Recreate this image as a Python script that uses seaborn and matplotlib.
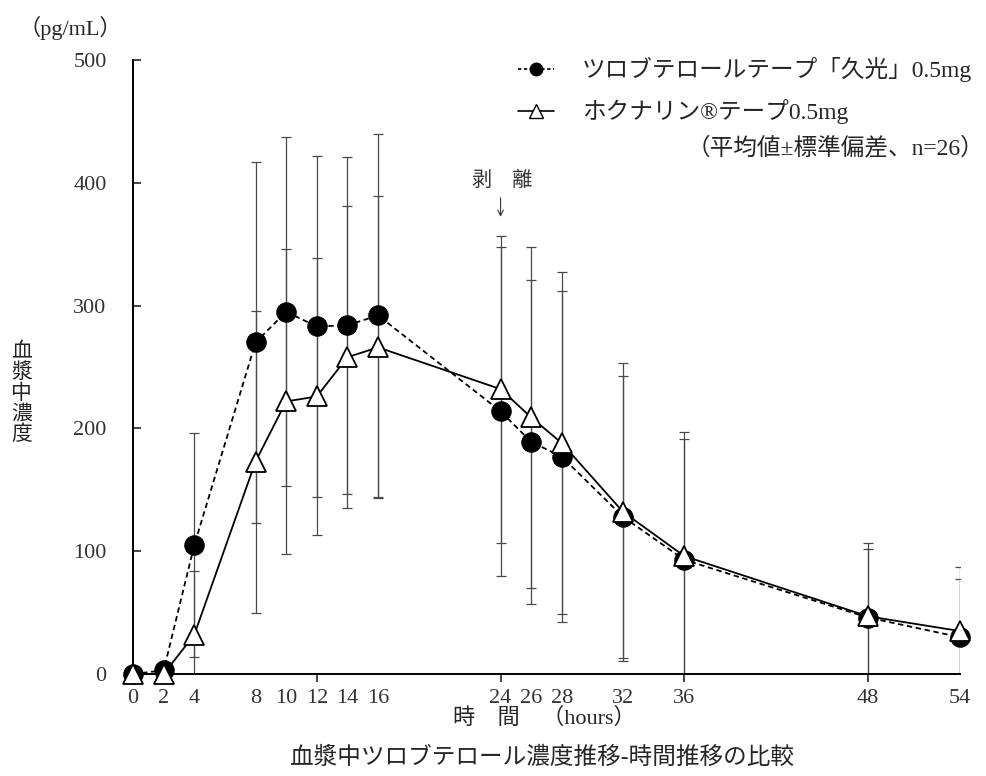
import numpy as np
import pandas as pd
import matplotlib
matplotlib.use("Agg")
import matplotlib.pyplot as plt
from matplotlib.lines import Line2D
from matplotlib.ticker import FixedLocator
import seaborn as sns

# sampling times (hours)
times = [0, 2, 4, 8, 10, 12, 14, 16, 24, 26, 28, 32, 36, 48, 54]

# ツロブテロールテープ「久光」0.5mg (mean, SD)
hisamitsu_mean = [0, 3, 105, 270, 295, 283, 284, 292, 214, 189, 177, 128, 93, 46, 30]
hisamitsu_sd = [0, 0, 91, 147, 142, 139, 137, 148, 134, 132, 135, 115, 98, 56, 47]

# ホクナリンテープ0.5mg (mean, SD)
hokunalin_mean = [0, 0, 32, 173, 222, 226, 258, 266, 232, 209, 188, 132, 96, 47, 35]
hokunalin_sd = [0, 0, 52, 123, 124, 113, 123, 123, 125, 139, 139, 121, 101, 60, 52]

y_ticks = [0, 100, 200, 300, 400, 500]
x_minor_ticks = [12, 24, 36, 48]

legend_labels = ["ツロブテロールテープ「久光」0.5mg", "ホクナリン®テープ0.5mg"]

sns.set_style("ticks")
plt.rcParams["font.family"] = ["Liberation Serif", "Noto Sans CJK JP", "DejaVu Sans"]

df = pd.DataFrame({
    "time": times,
    "hisamitsu": hisamitsu_mean,
    "hisamitsu_sd": hisamitsu_sd,
    "hokunalin": hokunalin_mean,
    "hokunalin_sd": hokunalin_sd,
})

fig = plt.figure(figsize=(9.87, 7.76), dpi=100)
ax = fig.add_axes([0.1348, 0.1314, 0.9726 - 0.1348, 0.9227 - 0.1314])

# error bars (only where SD > 0)
for col in ["hisamitsu", "hokunalin"]:
    d = df[df[col + "_sd"] > 0]
    ax.errorbar(d["time"], d[col], yerr=d[col + "_sd"], fmt="none",
                ecolor="#4a4a4a", elinewidth=0.9, capsize=3.6, capthick=0.9,
                zorder=1)

sns.lineplot(data=df, x="time", y="hisamitsu", ax=ax, color="black",
             linestyle=(0, (3, 2)), linewidth=1.3, marker="o", markersize=14,
             markerfacecolor="black", markeredgecolor="black",
             clip_on=False, zorder=3, legend=False)
sns.lineplot(data=df, x="time", y="hokunalin", ax=ax, color="black",
             linewidth=1.3, marker="^", markersize=15,
             markerfacecolor="white", markeredgecolor="black",
             markeredgewidth=1.3, clip_on=False, zorder=4, legend=False)

ax.set_xlim(0, 54)
ax.set_ylim(0, 500)
sns.despine(ax=ax)
for s in ["left", "bottom"]:
    ax.spines[s].set_linewidth(1.4)
    ax.spines[s].set_color("black")

ax.set_yticks(y_ticks)
ax.set_xticks(times)
ax.set_xticklabels([str(t) for t in times])
ax.xaxis.remove_overlapping_locs = False
ax.xaxis.set_minor_locator(FixedLocator(x_minor_ticks))
ax.tick_params(axis="y", direction="in", length=6, width=1.2, pad=19,
               labelsize=16, labelcolor="#333333")
ax.tick_params(axis="x", which="major", length=0, pad=11,
               labelsize=16, labelcolor="#333333")
ax.tick_params(axis="x", which="minor", direction="out", length=6, width=1.2)
ax.set_xlabel("")
ax.set_ylabel("")

# peel-off annotation
ax.annotate("", xy=(24, 370), xytext=(24, 390),
            arrowprops=dict(arrowstyle="->", lw=0.8, color="#333333"))
ax.text(24.1, 401, "剥　離", ha="center", va="center", fontsize=14.5,
        color="#333333")

# legend
handles = [
    Line2D([], [], color="black", linestyle=(0, (2, 1.5)), linewidth=1.2,
           marker="o", markersize=9, markerfacecolor="black"),
    Line2D([], [], color="black", linewidth=1.2, marker="^", markersize=10,
           markerfacecolor="white", markeredgecolor="black"),
]
fig.legend(handles, legend_labels, loc="upper left",
           bbox_to_anchor=(0.525, 0.926), frameon=False, fontsize=17,
           handlelength=1.5, handletextpad=1.2, labelspacing=0.72,
           borderpad=0, borderaxespad=0)
fig.text(0.997, 0.809, "（平均値±標準偏差、n=26）", ha="right", va="center",
         fontsize=17)

# axis titles
fig.text(0.071, 0.964, "（pg/mL）", ha="center", va="center", fontsize=16)
fig.text(0.022, 0.492, "\n".join("血漿中濃度"), ha="center", va="center",
         fontsize=15, linespacing=1.1, color="#222222")
fig.text(0.552, 0.074, "時　間　（hours）", ha="center", va="center",
         fontsize=16)
fig.text(0.549, 0.024, "血漿中ツロブテロール濃度推移-時間推移の比較",
         ha="center", va="center", fontsize=17)

fig.savefig("out.png", dpi=100)
